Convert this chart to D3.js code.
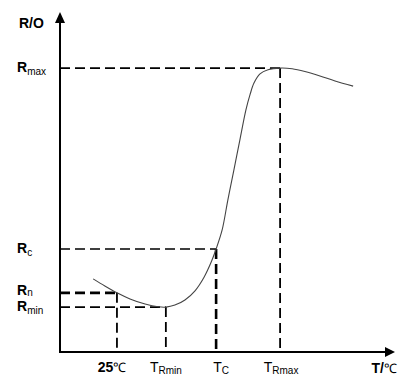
<!DOCTYPE html>
<html lang="en">
<head>
<meta charset="UTF-8">
<title>PTC R-T</title>
<script src="https://cdn.jsdelivr.net/npm/d3@7"></script>
<style>
  body { margin: 0; background: #fff; }
  text { font-family: "Liberation Sans", Arial, sans-serif; fill: #000; }
</style>
</head>
<body>
<svg width="407" height="385" id="svgcontainer"></svg>
<script>
// curve (T, R) in relative units
const curveT = [9.9, 13.4, 17.0, 20.9, 25.4, 29.3, 31.6, 34.3, 37.3, 40.3, 43.0, 45.2, 46.6, 48.4, 50.1, 51.9, 53.7, 55.5, 56.7, 57.9, 59.7, 62.1, 65.7, 69.3, 73.1, 77.6, 82.1, 87.5];
const curveR = [21.5, 19.4, 17.4, 15.6, 14.1, 13.3, 13.2, 13.8, 15.3, 18.0, 22.0, 26.6, 30.3, 35.9, 44.7, 53.5, 62.4, 71.2, 75.6, 79.1, 81.8, 83.0, 83.5, 83.3, 82.5, 81.2, 79.7, 78.2];

// guide lines: point on curve where horizontal meets vertical
const guideT = [17.0, 31.6, 46.6, 65.7];
const guideR = [17.4, 13.2, 30.3, 83.5];

const rLabels = [{main: 'R', sub: 'max', r: 83.5, dy: 4}, {main: 'R', sub: 'c', r: 30.3, dy: 4},
                 {main: 'R', sub: 'n', r: 17.4, dy: 2}, {main: 'R', sub: 'min', r: 13.2, dy: 4}];
const tLabels = [{main: '25', sub: '℃', t: 17.0, dx: -5}, {main: 'T', sub: 'Rmin', t: 31.6, dx: 0},
                 {main: 'T', sub: 'C', t: 46.6, dx: 5}, {main: 'T', sub: 'Rmax', t: 65.7, dx: 1}];

const svg = d3.select('#svgcontainer');
const x = d3.scaleLinear().domain([0, 100]).range([60, 395]);
const y = d3.scaleLinear().domain([0, 100]).range([352, 12]);

// dashed guides
const guides = svg.append('g');
guideT.forEach((t, i) => {
  guides.append('line')
    .attr('x1', x(0)).attr('x2', x(t)).attr('y1', y(guideR[i])).attr('y2', y(guideR[i]))
    .attr('stroke', '#000').attr('stroke-width', i === 0 ? 2.6 : 1.6).attr('stroke-dasharray', '10,5');
  guides.append('line')
    .attr('x1', x(t)).attr('x2', x(t)).attr('y1', y(guideR[i])).attr('y2', y(0))
    .attr('stroke', '#000').attr('stroke-width', i === 2 ? 2.6 : 1.8).attr('stroke-dasharray', '10,5');
});

// curve
const pts = curveT.map((t, i) => [t, curveR[i]]);
svg.append('path').datum(pts)
  .attr('d', d3.line().x(d => x(d[0])).y(d => y(d[1])).curve(d3.curveCatmullRom))
  .attr('fill', 'none').attr('stroke', '#444').attr('stroke-width', 1.1);

// axes with arrows
svg.append('line').attr('x1', x(0)).attr('x2', x(0)).attr('y1', y(0) + 1).attr('y2', y(100) + 8)
  .attr('stroke', '#000').attr('stroke-width', 2);
svg.append('line').attr('x1', x(0) - 1).attr('x2', x(100) - 8).attr('y1', y(0)).attr('y2', y(0))
  .attr('stroke', '#000').attr('stroke-width', 2);
svg.append('path')
  .attr('d', `M${x(0)},${y(100)} L${x(0) - 5},${y(100) + 11} L${x(0) + 5},${y(100) + 11} Z`);
svg.append('path')
  .attr('d', `M${x(100)},${y(0)} L${x(100) - 10},${y(0) - 5} L${x(100) - 10},${y(0) + 5} Z`);

// axis titles
svg.append('text').attr('x', 19).attr('y', 28).attr('font-size', 14).attr('font-weight', 'bold').text('R/O');
const tt = svg.append('text').attr('x', 397).attr('y', 373).attr('text-anchor', 'end').attr('font-size', 14);
tt.append('tspan').attr('font-weight', 'bold').text('T/');
tt.append('tspan').attr('font-size', 13).text('℃');

// R labels
rLabels.forEach(d => {
  const t = svg.append('text').attr('x', 17).attr('y', y(d.r) + d.dy).attr('font-size', 14);
  t.append('tspan').attr('font-weight', 'bold').text(d.main);
  t.append('tspan').attr('font-size', 10).attr('dy', d.sub === 'n' ? 1 : 3).text(d.sub);
});

// T labels
tLabels.forEach(d => {
  const t = svg.append('text').attr('x', x(d.t) + d.dx).attr('y', 372)
    .attr('text-anchor', 'middle').attr('font-size', 14);
  if (d.main === '25') {
    t.append('tspan').attr('font-weight', 'bold').text(d.main);
    t.append('tspan').attr('font-size', 13).text(d.sub);
  } else {
    t.append('tspan').text(d.main);
    t.append('tspan').attr('font-size', 10).attr('dy', 2).text(d.sub);
  }
});
</script>
</body>
</html>
